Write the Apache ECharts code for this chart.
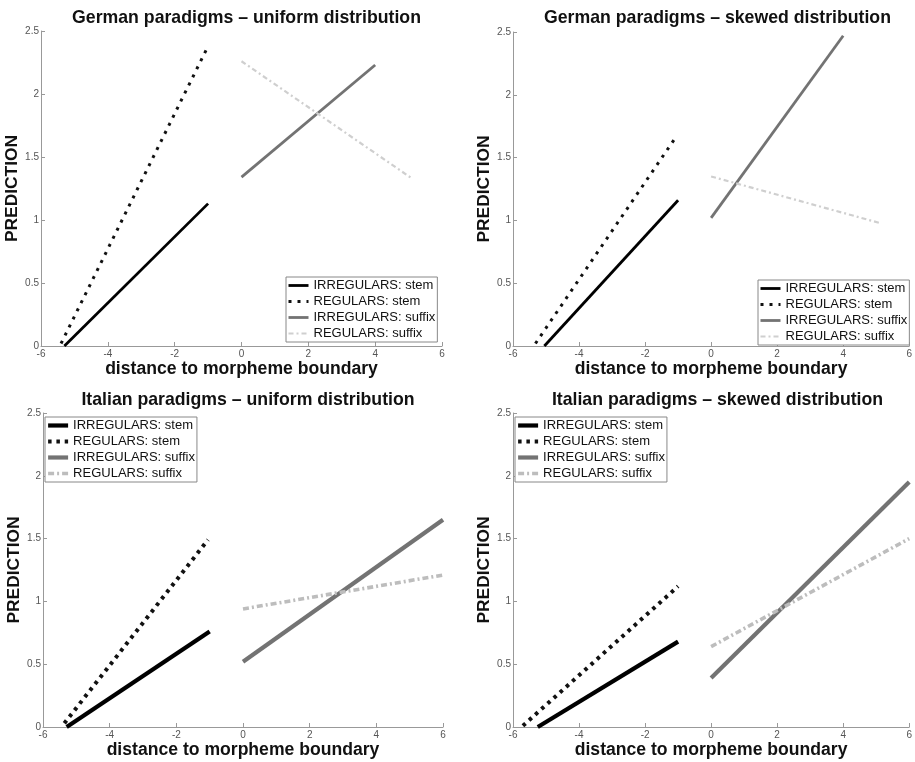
<!DOCTYPE html>
<html>
<head>
<meta charset="utf-8">
<script src="https://cdn.jsdelivr.net/npm/echarts@6/dist/echarts.min.js"></script>
<style>html,body{margin:0;padding:0;background:#fff}#c{width:915px;height:762px}</style>
</head>
<body>
<div id="c"></div>
<script>
const xTicks = [-6, -4, -2, 0, 2, 4, 6];
const yTicks = [0, 0.5, 1, 1.5, 2, 2.5];
const titles = ['German paradigms \u2013 uniform distribution', 'German paradigms \u2013 skewed distribution',
  'Italian paradigms \u2013 uniform distribution', 'Italian paradigms \u2013 skewed distribution'];
const seriesNames = ['IRREGULARS: stem', 'REGULARS: stem', 'IRREGULARS: suffix', 'REGULARS: suffix'];
const xName = 'distance to morpheme boundary';
const yName = 'PREDICTION';

// German uniform
const gerUniIrrStem = [[-5.3, 0], [-1, 1.13]];
const gerUniRegStem = [[-5.4, 0.02], [-1, 2.38]];
const gerUniIrrSuffix = [[0, 1.34], [4, 2.23]];
const gerUniRegSuffix = [[0, 2.26], [5.1, 1.33]];
// German skewed
const gerSkwIrrStem = [[-5.05, 0], [-1, 1.16]];
const gerSkwRegStem = [[-5.32, 0.02], [-1.05, 1.67]];
const gerSkwIrrSuffix = [[0, 1.02], [4, 2.47]];
const gerSkwRegSuffix = [[0, 1.35], [5.1, 0.98]];
// Italian uniform
const itaUniIrrStem = [[-5.29, 0], [-1, 0.76]];
const itaUniRegStem = [[-5.36, 0.03], [-1.05, 1.49]];
const itaUniIrrSuffix = [[0, 0.52], [6, 1.65]];
const itaUniRegSuffix = [[0, 0.94], [6, 1.21]];
// Italian skewed
const itaSkwIrrStem = [[-5.25, 0], [-1, 0.68]];
const itaSkwRegStem = [[-5.7, 0.01], [-1, 1.12]];
const itaSkwIrrSuffix = [[0, 0.39], [6, 1.95]];
const itaSkwRegSuffix = [[0, 0.64], [6, 1.5]];

const panelData = [
  [gerUniIrrStem, gerUniRegStem, gerUniIrrSuffix, gerUniRegSuffix],
  [gerSkwIrrStem, gerSkwRegStem, gerSkwIrrSuffix, gerSkwRegSuffix],
  [itaUniIrrStem, itaUniRegStem, itaUniIrrSuffix, itaUniRegSuffix],
  [itaSkwIrrStem, itaSkwRegStem, itaSkwIrrSuffix, itaSkwRegSuffix]
];

const grids = [
  {left: 41, right: 473, top: 31, bottom: 416},
  {left: 513, right: 3, top: 32, bottom: 416},
  {left: 43, right: 472, top: 413, bottom: 35},
  {left: 513, right: 3, top: 413, bottom: 35}
];
const yNameGaps = [11.5, 20, 13.5, 16];
const legendPos = [
  {left: 286, top: 277},
  {left: 758, top: 280},
  {left: 45, top: 417},
  {left: 515, top: 417}
];

function styleFor(row, k) {
  const w = row === 0 ? 2.8 : 4.2;
  const styles = [
    {color: '#000000', width: w, type: 'solid'},
    {color: '#111111', width: row === 0 ? 3 : 4, type: row === 0 ? [3, 6] : [3.5, 4.8]},
    {color: '#737373', width: w, type: 'solid'},
    {color: row === 0 ? '#cfcfcf' : '#bdbdbd', width: w - 0.6, type: row === 0 ? [5, 3, 2, 3] : [6, 3, 2, 3]}
  ];
  return styles[k];
}

const font = 'Liberation Sans, Arial, sans-serif';
const option = {
  animation: false,
  backgroundColor: '#ffffff',
  title: [], grid: [], xAxis: [], yAxis: [], series: [], legend: []
};

for (let p = 0; p < 4; p++) {
  const row = p < 2 ? 0 : 1;
  const g = grids[p];
  option.grid.push(Object.assign({containLabel: false}, g));
  const cx = (g.left + (915 - g.right)) / 2;
  option.title.push({
    text: titles[p], left: cx, top: row === 0 ? 4 : 386, textAlign: 'center',
    textStyle: {fontFamily: font, fontSize: 17.7, fontWeight: 'bold', color: '#111'}
  });
  option.xAxis.push({
    type: 'value', gridIndex: p, min: xTicks[0], max: xTicks[xTicks.length - 1], interval: 2,
    name: xName, nameLocation: 'middle', nameGap: 10.5,
    nameTextStyle: {fontFamily: font, fontSize: 17.6, fontWeight: 'bold', color: '#111'},
    axisLine: {show: true, onZero: false, lineStyle: {color: '#999', width: 1}},
    axisTick: {show: true, inside: true, length: 4, lineStyle: {color: '#999'}},
    axisLabel: {fontFamily: font, fontSize: 10, color: '#555', margin: 3},
    splitLine: {show: false}
  });
  option.yAxis.push({
    type: 'value', gridIndex: p, min: yTicks[0], max: yTicks[yTicks.length - 1], interval: 0.5,
    name: yName, nameLocation: 'middle', nameGap: yNameGaps[p],
    nameTextStyle: {fontFamily: font, fontSize: 17.4, fontWeight: 'bold', color: '#111'},
    axisLine: {show: true, onZero: false, lineStyle: {color: '#999', width: 1}},
    axisTick: {show: true, inside: true, length: 4, lineStyle: {color: '#999'}},
    axisLabel: {fontFamily: font, fontSize: 10, color: '#555', margin: 2},
    splitLine: {show: false}
  });
  for (let k = 0; k < 4; k++) {
    const st = styleFor(row, k);
    option.series.push({
      type: 'line', name: seriesNames[k], xAxisIndex: p, yAxisIndex: p,
      data: panelData[p][k], symbol: 'none', showSymbol: false,
      lineStyle: {color: st.color, width: st.width, type: st.type, cap: 'butt'},
      itemStyle: {color: st.color},
      z: 2 + k
    });
  }
  option.legend.push({
    left: legendPos[p].left, top: legendPos[p].top, orient: 'vertical',
    data: seriesNames.map((n, k) => {
      const st = styleFor(row, k);
      return {
        name: n,
        lineStyle: {color: st.color, width: st.width, type: st.type},
        itemStyle: {color: 'rgba(0,0,0,0)', borderWidth: 0, opacity: 0}
      };
    }),
    itemWidth: 20, itemHeight: 13, itemGap: 3,
    padding: [2, 2, 2, 1],
    borderColor: '#888', borderWidth: 1, backgroundColor: '#ffffff',
    selectedMode: false,
    textStyle: {fontFamily: font, fontSize: 13, color: '#111', padding: [0, 0, 0, 0]}
  });
}

const chart = echarts.init(document.getElementById('c'), null, {renderer: 'canvas'});
chart.setOption(option);
</script>
</body>
</html>
